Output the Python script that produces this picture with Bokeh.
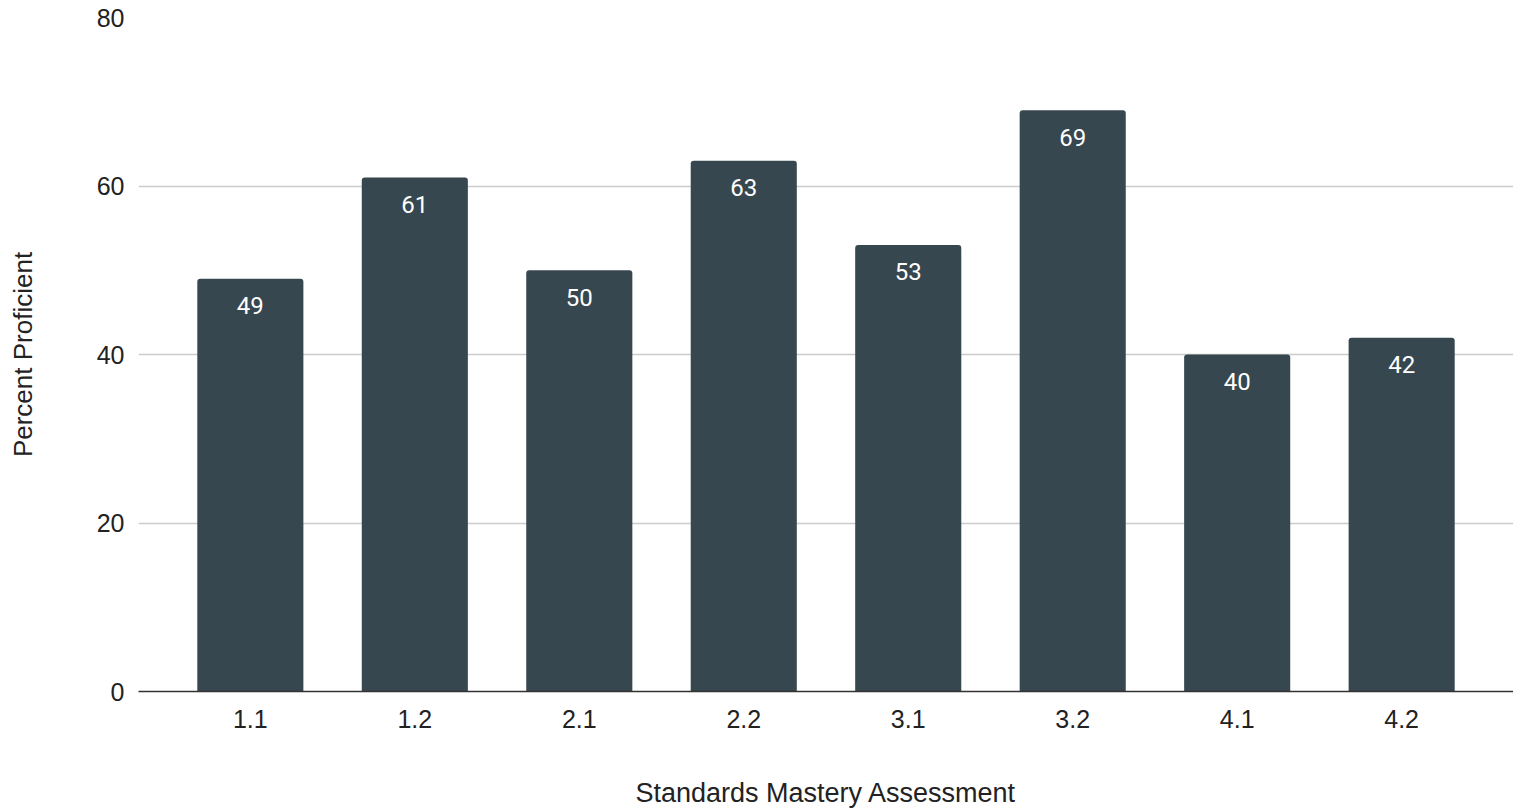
from bokeh.plotting import figure
from bokeh.models import ColumnDataSource, FactorRange, Range1d, LabelSet, SingleIntervalTicker
from bokeh.core.properties import value
from bokeh.embed import file_html
from bokeh.resources import INLINE

categories = ["1.1", "1.2", "2.1", "2.2", "3.1", "3.2", "4.1", "4.2"]
percent = [49, 61, 50, 63, 53, 69, 40, 42]
labels = [str(v) for v in percent]

src = ColumnDataSource(dict(cat=categories, val=percent, lab=labels))

p = figure(
    x_range=FactorRange(factors=categories, range_padding=0.18, range_padding_units="absolute"),
    y_range=Range1d(0, 80),
    width=1513, height=810,
    output_backend="svg", toolbar_location=None,
    min_border_left=138, min_border_right=0, min_border_top=17, min_border_bottom=119,
)
p.outline_line_color = None
p.background_fill_color = "white"

p.vbar(x="cat", top="val", width=0.645, source=src, fill_color="#37474f",
       line_color=None, border_radius=(3, 3, 0, 0))

lbl = LabelSet(x="cat", y="val", text="lab", source=src, y_offset=-27,
               text_align="center", text_baseline="middle", text_color="white",
               text_font=value("Roboto"), text_font_size="24px")
p.add_layout(lbl)

p.yaxis.ticker = SingleIntervalTicker(interval=20)
p.yaxis.axis_line_color = None
p.yaxis.major_tick_line_color = None
p.yaxis.minor_tick_line_color = None
p.yaxis.major_label_standoff = 8
p.yaxis.major_label_text_font = "Liberation Sans"
p.yaxis.major_label_text_font_size = "25px"
p.yaxis.major_label_text_color = "#222222"
p.yaxis.axis_label = "Percent Proficient"
p.yaxis.axis_label_text_font = "Liberation Sans"
p.yaxis.axis_label_text_font_size = "26px"
p.yaxis.axis_label_text_font_style = "normal"
p.yaxis.axis_label_text_color = "#222222"
p.yaxis.axis_label_standoff = 56

p.xaxis.axis_line_color = "#333333"
p.xaxis.axis_line_width = 1.5
p.xaxis.major_tick_line_color = None
p.xaxis.minor_tick_line_color = None
p.xaxis.major_label_standoff = 12
p.xaxis.major_label_text_font = "Liberation Sans"
p.xaxis.major_label_text_font_size = "25px"
p.xaxis.major_label_text_color = "#222222"
p.xaxis.axis_label = "Standards Mastery Assessment"
p.xaxis.axis_label_text_font = "Liberation Sans"
p.xaxis.axis_label_text_font_size = "27px"
p.xaxis.axis_label_text_font_style = "normal"
p.xaxis.axis_label_text_color = "#222222"
p.xaxis.axis_label_standoff = 47

p.xgrid.grid_line_color = None
p.ygrid.grid_line_color = "#cccccc"
p.ygrid.grid_line_width = 1.5

open("out.html", "w").write(file_html(p, INLINE))
